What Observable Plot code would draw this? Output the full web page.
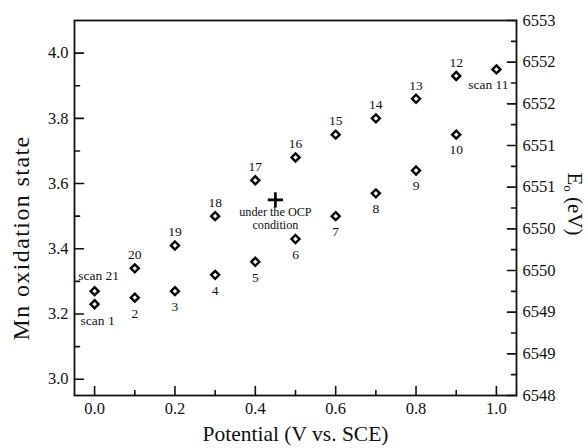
<!DOCTYPE html>
<html><head><meta charset="utf-8">
<script src="https://cdn.jsdelivr.net/npm/d3@7"></script>
<script src="https://cdn.jsdelivr.net/npm/@observablehq/plot@0.6"></script>
<style>body{margin:0;background:#fff} svg text{font-family:"Liberation Serif","Times New Roman",serif}</style>
</head><body><div id="chart"></div>
<script>
// Forward scan (scans 1–11)
const forwardPotential = [0.0, 0.1, 0.2, 0.3, 0.4, 0.5, 0.6, 0.7, 0.8, 0.9, 1.0];
const forwardState = [3.23, 3.25, 3.27, 3.32, 3.36, 3.43, 3.50, 3.57, 3.64, 3.75, 3.95];
const forwardLabels = ["scan 1", "2", "3", "4", "5", "6", "7", "8", "9", "10", "scan 11"];
// Reverse scan (scans 12–21)
const reversePotential = [0.9, 0.8, 0.7, 0.6, 0.5, 0.4, 0.3, 0.2, 0.1, 0.0];
const reverseState = [3.93, 3.86, 3.80, 3.75, 3.68, 3.61, 3.50, 3.41, 3.34, 3.27];
const reverseLabels = ["12", "13", "14", "15", "16", "17", "18", "19", "20", "scan 21"];
// Open circuit potential
const ocpPotential = [0.45];
const ocpState = [3.55];
const ocpLabel = ["under the OCP\ncondition"];
// Axes
const xDomain = [-0.05, 1.05];
const xMajor = [0.0, 0.2, 0.4, 0.6, 0.8, 1.0];
const xMinor = [0.1, 0.3, 0.5, 0.7, 0.9];
const stateDomain = [2.95, 4.1];
const stateMajor = [3.0, 3.2, 3.4, 3.6, 3.8, 4.0];
const stateMinor = [3.1, 3.3, 3.5, 3.7, 3.9];
const eVDomain = [6548, 6553];
const eVTickLabels = ["6548", "6549", "6549", "6550", "6550", "6551", "6551", "6552", "6552", "6553"];

const eToState = e => stateDomain[0] + (e - eVDomain[0]) * (stateDomain[1] - stateDomain[0]) / (eVDomain[1] - eVDomain[0]);
const nE = eVTickLabels.length - 1;
const eVMajor = eVTickLabels.map((_, k) => eVDomain[0] + k * (eVDomain[1] - eVDomain[0]) / nE);
const eVMinor = d3.range(nE).map(k => eVDomain[0] + (k + 0.5) * (eVDomain[1] - eVDomain[0]) / nE);
const rightMajor = eVMajor.map(eToState);
const rightMinor = eVMinor.map(eToState);

const forward = forwardPotential.map((p, i) => ({p, s: forwardState[i], label: forwardLabels[i], i}));
const reverse = reversePotential.map((p, i) => ({p, s: reverseState[i], label: reverseLabels[i], i}));
const ocp = ocpPotential.map((p, i) => ({p, s: ocpState[i], label: ocpLabel[i]}));
const last = reverse.length - 1;

const tickShape = {draw(ctx, l) { ctx.moveTo(0, 0); ctx.lineTo(0, -l); }};
const font = "Liberation Serif, Times New Roman, serif";
const tickW = 1.6;
const ink = "#111";
const lbl = {x: "p", y: "s", text: "label", fontSize: 13.5, fill: ink, fontFamily: font};

const chart = Plot.plot({
  width: 588, height: 448,
  marginLeft: 74, marginRight: 72, marginTop: 20, marginBottom: 53,
  style: {fontFamily: font, color: ink, background: "#fff"},
  x: {domain: xDomain},
  y: {domain: stateDomain},
  marks: [
    Plot.axisX({ticks: xMajor, tickSize: 0, tickPadding: 7, tickFormat: d3.format(".1f"), fontSize: 16.5, fontFamily: font, label: null}),
    Plot.axisY({anchor: "left", ticks: stateMajor, tickSize: 0, tickPadding: 6, tickFormat: d3.format(".1f"), fontSize: 16.5, fontFamily: font, label: null}),
    Plot.axisY({anchor: "right", ticks: rightMajor, tickSize: 0, tickPadding: 6, tickFormat: d => eVTickLabels[rightMajor.indexOf(d)], fontSize: 16.5, fontFamily: font, label: null}),
    // inward ticks
    Plot.vector(xMajor, {x: d => d, frameAnchor: "bottom", length: 9, anchor: "start", shape: tickShape, stroke: ink, strokeWidth: tickW}),
    Plot.vector(xMinor, {x: d => d, frameAnchor: "bottom", length: 5, anchor: "start", shape: tickShape, stroke: ink, strokeWidth: tickW}),
    Plot.vector(stateMajor, {y: d => d, frameAnchor: "left", rotate: 90, length: 9, anchor: "start", shape: tickShape, stroke: ink, strokeWidth: tickW}),
    Plot.vector(stateMinor, {y: d => d, frameAnchor: "left", rotate: 90, length: 5, anchor: "start", shape: tickShape, stroke: ink, strokeWidth: tickW}),
    Plot.vector(rightMajor, {y: d => d, frameAnchor: "right", rotate: -90, length: 9, anchor: "start", shape: tickShape, stroke: ink, strokeWidth: tickW}),
    Plot.vector(rightMinor, {y: d => d, frameAnchor: "right", rotate: -90, length: 5, anchor: "start", shape: tickShape, stroke: ink, strokeWidth: tickW}),
    Plot.frame({stroke: ink, strokeWidth: 1.8}),
    // data
    Plot.dot(forward, {x: "p", y: "s", symbol: "diamond2", r: 3.6, stroke: "#000", strokeWidth: 2.4, fill: "#fff"}),
    Plot.dot(reverse, {x: "p", y: "s", symbol: "diamond2", r: 3.6, stroke: "#000", strokeWidth: 2.4, fill: "#fff"}),
    Plot.dot(ocp, {x: "p", y: "s", symbol: "plus", r: 5, stroke: "#000", strokeWidth: 2.6}),
    // point labels
    Plot.text(forward.filter(d => d.i === 0), {...lbl, dy: 16, dx: 3}),
    Plot.text(forward.filter(d => d.i > 0 && d.i < 10), {...lbl, dy: 15.5}),
    Plot.text(forward.filter(d => d.i === 10), {...lbl, dy: 15.5, dx: -8}),
    Plot.text(reverse.filter(d => d.i < last), {...lbl, dy: -13.5}),
    Plot.text(reverse.filter(d => d.i === last), {...lbl, dy: -15.5, dx: 4}),
    Plot.text(ocp, {...lbl, dy: 18.5, fontSize: 12.2, lineHeight: 1.1}),
    // axis titles
    Plot.text(["Potential (V vs. SCE)"], {frameAnchor: "bottom", dy: 45, fontSize: 21.5, fill: ink, fontFamily: font}),
    Plot.text(["Mn oxidation state"], {frameAnchor: "left", textAnchor: "middle", dx: -53, dy: 30, rotate: -90, fontSize: 24, fill: ink, fontFamily: font, className: "mn-title"}),
    Plot.text(["E (eV)"], {frameAnchor: "right", textAnchor: "middle", dx: 58, dy: -4, rotate: 90, fontSize: 21, fill: ink, fontFamily: font, className: "eo-title"})
  ]
});
d3.select(chart).selectAll(".mn-title text").attr("letter-spacing", 1.4);
// subscript "o" in E₀ title
d3.select(chart).selectAll(".eo-title text").each(function() {
  const t = d3.select(this);
  t.text(null);
  t.append("tspan").text("E");
  t.append("tspan").attr("font-size", 13).attr("dy", 4).text("o");
  t.append("tspan").attr("dy", -4).text(" (eV)");
});
document.getElementById("chart").appendChild(chart);
</script>
</body></html>
